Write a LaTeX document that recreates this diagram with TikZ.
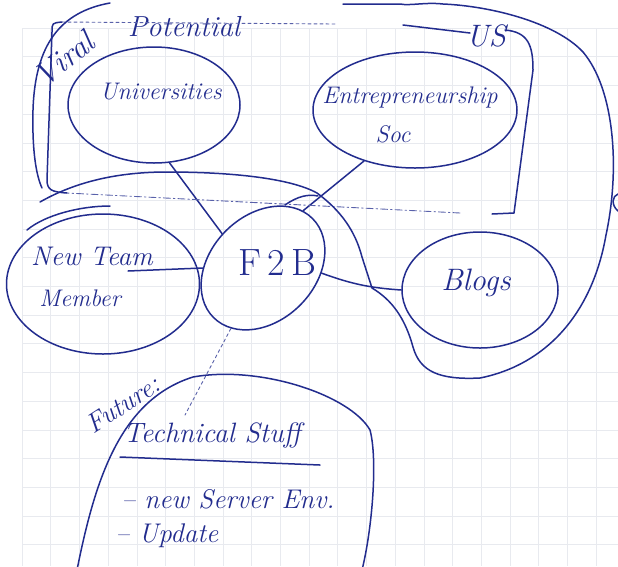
\documentclass[tikz,border=0pt]{standalone}
\usetikzlibrary{shapes.geometric}
\definecolor{ink}{RGB}{34,44,142}
\definecolor{gridgray}{RGB}{232,234,239}
\newcommand{\handsize}[1]{\fontsize{#1}{#1}\selectfont\itshape}
\begin{document}
\begin{tikzpicture}[x=1pt,y=-1pt,
  pen/.style={draw=ink, line width=1.5pt, line cap=round, line join=round},
  thinpen/.style={draw=ink!75, line width=0.9pt, line cap=round},
  bubble/.style={pen, ellipse, inner sep=0pt},
  hand/.style={text=ink, font=\handsize{24}, inner sep=0pt},
  gridline/.style={draw=gridgray, line width=0.6pt}]

% paper
\fill[white] (0,0) rectangle (618,566);
\useasboundingbox (0,0) rectangle (618,566);
\foreach \i in {0,...,21} {\draw[gridline] ({22+28.7*\i},28) -- ({22+28.7*\i},566);}
\foreach \j in {0,...,19} {\draw[gridline] (22,{28+28.7*\j}) -- (618,{28+28.7*\j});}

% bubbles
\node[bubble, minimum width=172pt, minimum height=116pt] (uni) at (154,105) {};
\node[bubble, minimum width=204pt, minimum height=116pt] (ent) at (415,110) {};
\node[bubble, minimum width=193pt, minimum height=140pt] (ntm) at (103,284) {};
\node[bubble, minimum width=140pt, minimum height=105pt, rotate=45] (f2b) at (263,268) {};
\node[bubble, minimum width=156pt, minimum height=116pt] (blogs) at (480,290) {};

% bubble labels
\node[hand] (uniText) at (161,92) {Universities};
\node[hand] (entText) at (410,97) {Entrepreneurship};
\node[hand] (socText) at (393,134) {Soc};
\node[hand, font=\handsize{27}] (newTeamText) at (92,256) {New Team};
\node[hand] (memberText) at (80,298) {Member};
\node[text=ink, font=\fontsize{38}{38}\selectfont, inner sep=0pt] (f2bText) at (277,263) {F\,2\,B};
\node[hand, font=\handsize{31}] (blogsText) at (476,283) {Blogs};

% links between the bubbles
\coordinate (teamTail) at (128,271);
\coordinate (techTop) at (185,415);
\draw[pen] (uni.-75) -- (f2b.95);
\draw[pen] (ent.225) -- (f2b.10);
\draw[pen] (teamTail) -- (f2b.135);
\draw[pen] (f2b.-50) to[bend right=8] (blogs.west);
\draw[thinpen, dashed] (f2b) -- (techTop);

% viral potential box
\node[hand, font=\handsize{32}, rotate=38] (viral) at (64,59) {Viral};
\node[hand, font=\handsize{29}] (potential) at (184,27) {Potential};
\node[hand, font=\handsize{31}] (us) at (486,36) {US};
\draw[pen] (67,193) .. controls (52,192) and (47,190) .. (47,180) -- (52,32) .. controls (52,23) .. (62,22);
\draw[thinpen, dashed] (62,22) -- (335,24);
\draw[pen] (403,25) -- (470,33);
\draw[pen] (505,30) .. controls (528,32) and (533,45) .. (533,70) -- (514,213) -- (492,214);
\draw[thinpen, dash pattern=on 7pt off 3pt on 1.5pt off 3pt] (460,213) -- (67,193);

% outer loop
\draw[pen] (110,3) .. controls (60,12) and (35,45) .. (33,110) .. controls (32,150) and (36,175) .. (42,188);
\draw[pen] (40,202) .. controls (70,185) and (110,172) .. (167,172)
  .. controls (230,172) and (290,178) .. (317,193)
  .. controls (340,210) and (355,230) .. (362,257) -- (372,288)
  .. controls (392,300) and (405,318) .. (413,347)
  .. controls (420,372) and (440,380) .. (480,378)
  .. controls (545,365) and (592,315) .. (606,235)
  .. controls (620,170) and (615,90) .. (583,52)
  .. controls (555,22) and (490,6) .. (443,4) .. controls (425,2) and (410,6) .. (400,4) -- (343,4);

% stray pen strokes
\draw[pen] (27,230) .. controls (45,215) and (80,206) .. (110,206);
\draw[pen] (285,205) .. controls (298,196) and (308,194) .. (318,196);
\draw[pen] (618,194) .. controls (612,196) and (611,205) .. (618,211);

% future work area
\draw[pen] (77,570) .. controls (95,480) and (120,400) .. (193,377)
  .. controls (260,365) and (350,395) .. (370,430)
  .. controls (378,460) and (372,530) .. (362,570);
\node[hand, font=\handsize{27}, rotate=33] (future) at (123,404) {Future:};
\node[hand, font=\handsize{28}] (techTitle) at (212,435) {Technical Stuff};
\coordinate (ulLeft) at (120,457);
\coordinate (ulRight) at (320,465);
\draw[pen] (ulLeft) -- (ulRight);
\node[hand, font=\handsize{27}] (item1) at (228,499) {-- new Server Env.};
\node[hand, font=\handsize{27}] (item2) at (167,536) {-- Update};
\end{tikzpicture}
\end{document}
